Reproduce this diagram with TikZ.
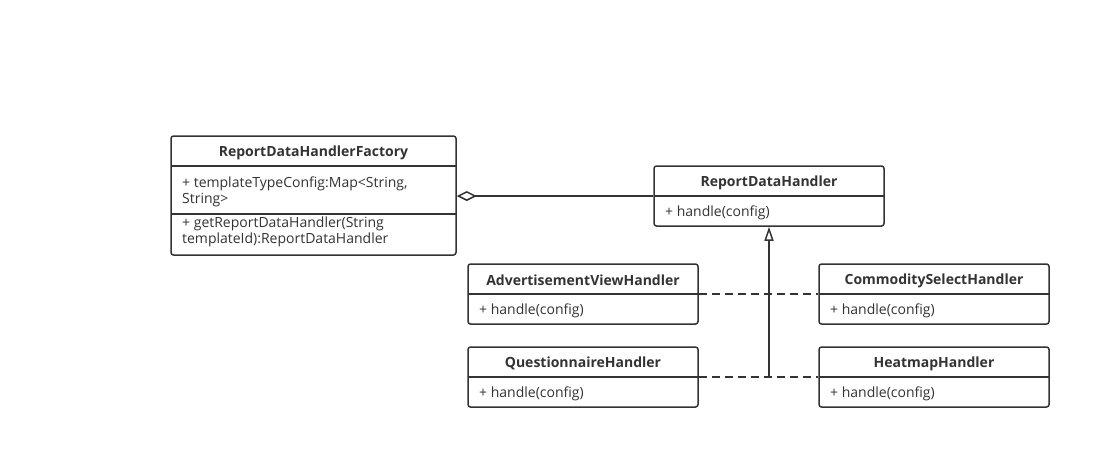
\documentclass[tikz,border=0pt]{standalone}
\usepackage{fontspec}
\setmainfont{Open Sans}
\usetikzlibrary{arrows.meta}
\definecolor{lc}{HTML}{333333}
\definecolor{tc}{HTML}{333333}
\begin{document}
\begin{tikzpicture}[x=1pt,y=-1pt,
  cls/.style={draw=lc, line width=1.5pt, rounded corners=2.5pt, inner sep=0pt, fill=white},
  divider/.style={draw=lc, line width=1.5pt},
  ctitle/.style={font=\bfseries\fontsize{14}{16}\selectfont, text=tc, inner sep=0pt},
  member/.style={font=\fontsize{14}{16}\selectfont, anchor=west, align=left, text=tc, inner sep=0pt},
  conn/.style={draw=lc, line width=1.5pt},
  dashconn/.style={draw=lc, line width=1.5pt, dash pattern=on 8pt off 5pt}]
\fill[white] (0,0) rectangle (1111,469);
\useasboundingbox (0,0) rectangle (1111,469);

% Factory
\node[cls, minimum width=285pt, minimum height=119pt] (fac) at (313.5,195.5) {};
\draw[divider] (171,166) -- (456,166);
\draw[divider] (171,214) -- (456,214);
\node[ctitle] (facT) at (313.5,152.5) {ReportDataHandlerFactory};
\node[member] (facA) at (182,191.5) {+ templateTypeConfig:Map<String,\\String>};
\node[member] (facM) at (182,232) {+ getReportDataHandler(String\\templateId):ReportDataHandler};

% ReportDataHandler
\node[cls, minimum width=230pt, minimum height=60pt] (rdh) at (769,196) {};
\draw[divider] (654,196) -- (884,196);
\node[ctitle] (rdhT) at (769,182.5) {ReportDataHandler};
\node[member] (rdhM) at (665,212.5) {+ handle(config)};

% Advertisement
\node[cls, minimum width=230pt, minimum height=60pt] (avh) at (583,294) {};
\draw[divider] (468,294) -- (698,294);
\node[ctitle] (avhT) at (583,280.5) {AdvertisementViewHandler};
\node[member] (avhM) at (479,310.5) {+ handle(config)};

% Commodity
\node[cls, minimum width=230pt, minimum height=60pt] (csh) at (934,294) {};
\draw[divider] (819,294) -- (1049,294);
\node[ctitle] (cshT) at (934,280.5) {CommoditySelectHandler};
\node[member] (cshM) at (830,310.5) {+ handle(config)};

% Questionnaire
\node[cls, minimum width=230pt, minimum height=60pt] (qh) at (583,377) {};
\draw[divider] (468,377) -- (698,377);
\node[ctitle] (qhT) at (583,363.5) {QuestionnaireHandler};
\node[member] (qhM) at (479,393.5) {+ handle(config)};

% Heatmap
\node[cls, minimum width=230pt, minimum height=60pt] (hh) at (934,377) {};
\draw[divider] (819,377) -- (1049,377);
\node[ctitle] (hhT) at (934,363.5) {HeatmapHandler};
\node[member] (hhM) at (830,393.5) {+ handle(config)};

% Connectors
\draw[conn, {Diamond[open, length=20pt, width=10pt, line width=1.5pt]}-] (rdh.west -| fac.east) -- (rdh.west);
\draw[dashconn] (avh.east) -- (csh.west);
\draw[dashconn] (qh.east) -- (hh.west);
\coordinate (j) at (769,377);
\draw[conn, -{Triangle[open, length=14pt, width=9pt, line width=1.5pt]}] (j) -- (rdh.south);
\end{tikzpicture}
\end{document}
